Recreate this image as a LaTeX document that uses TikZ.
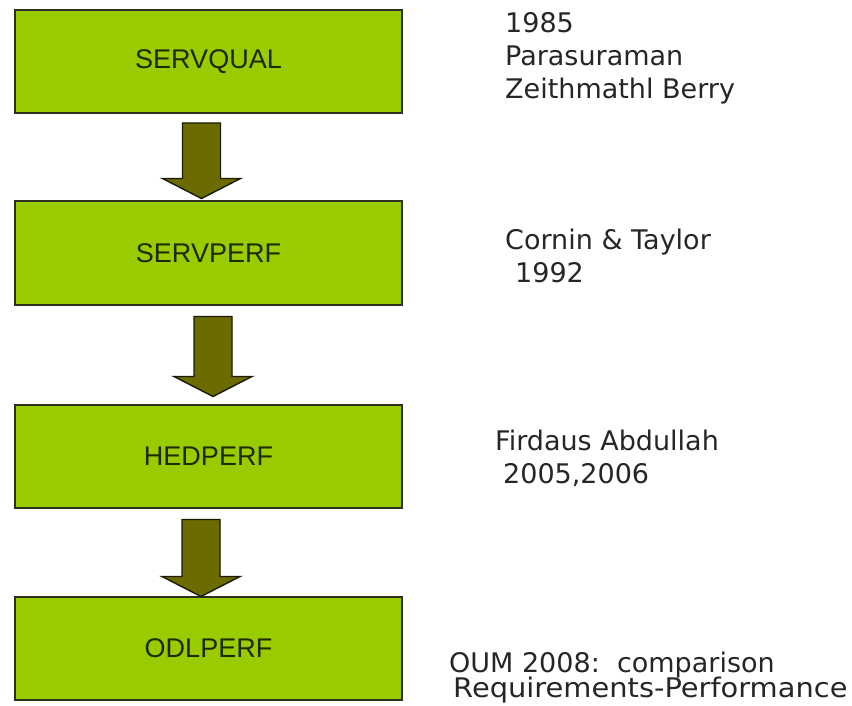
\documentclass[tikz,border=0pt]{standalone}
\usepackage{fontspec}
\setmainfont{DejaVu Sans}
\newfontfamily\boxfont{Liberation Sans}
\usetikzlibrary{calc}
\definecolor{boxGreen}{HTML}{99CC00}
\definecolor{arrOlive}{HTML}{6B6B00}
\definecolor{edgeDark}{HTML}{2C3120}
\definecolor{labelInk}{HTML}{1E2A05}
\definecolor{noteInk}{HTML}{262626}
% thick block arrow from a top point down to a tip point
\newcommand{\blockarrow}[2]{%
  \draw[arr] ($(#1)+(-19,0)$) -- ($(#1)+(19,0)$) -- ($(#2)+(19,-20)$)
    -- ($(#2)+(39,-20)$) -- (#2) -- ($(#2)+(-39,-20)$) -- ($(#2)+(-19,-20)$) -- cycle;}

\begin{document}
\begin{tikzpicture}[x=1pt, y=-1pt,
  stage/.style={draw=edgeDark, line width=2pt, fill=boxGreen, outer sep=0pt, inner sep=0pt,
    minimum width=387pt, minimum height=103pt, text=labelInk,
    font=\boxfont\fontsize{27}{32}\selectfont},
  arr/.style={fill=arrOlive, draw=black!75!arrOlive, line width=1.4pt, line join=miter},
  note/.style={anchor=base west, inner sep=0pt, text=noteInk,
    font=\fontsize{27}{33}\selectfont}]
\useasboundingbox (0,0) rectangle (852,706);

\node[stage] (servqual) at (208.5,61.5) {SERVQUAL};
\node[stage] (servperf) at (208.5,253) {SERVPERF};
\node[stage] (hedperf) at (208.5,456) {HEDPERF};
\node[stage] (odlperf) at (208.5,648) {ODLPERF};

\coordinate (a1top) at ([xshift=-7pt,yshift=-10pt]servqual.south);
\coordinate (a1tip) at ([xshift=-7pt,yshift=3pt]servperf.north);
\coordinate (a2top) at ([xshift=4.5pt,yshift=-12pt]servperf.south);
\coordinate (a2tip) at ([xshift=4.5pt,yshift=8pt]hedperf.north);
\coordinate (a3top) at ([xshift=-7.5pt,yshift=-12pt]hedperf.south);
\coordinate (a3tip) at ([xshift=-7.5pt,yshift=0pt]odlperf.north);
\blockarrow{a1top}{a1tip}
\blockarrow{a2top}{a2tip}
\blockarrow{a3top}{a3tip}

% notes on the right
\node[note] (year1) at (505,33) {1985};
\node[note] (auth1) at (505,66) {Parasuraman};
\node[note] (auth1b) at (505,99) {Zeithmathl Berry};
\node[note] (auth2) at (505,249) {Cornin \& Taylor};
\node[note] (year2) at (515,282) {1992};
\node[note] (auth3) at (495,450) {Firdaus Abdullah};
\node[note] (year3) at (503,483) {2005,2006};
\node[note] (auth4) at (449,672) {OUM 2008:\ \ comparison};
\node[note] (auth4b) at (453,697) {\scalebox{1.07}[1]{Requirements-Performance}};
\end{tikzpicture}
\end{document}
